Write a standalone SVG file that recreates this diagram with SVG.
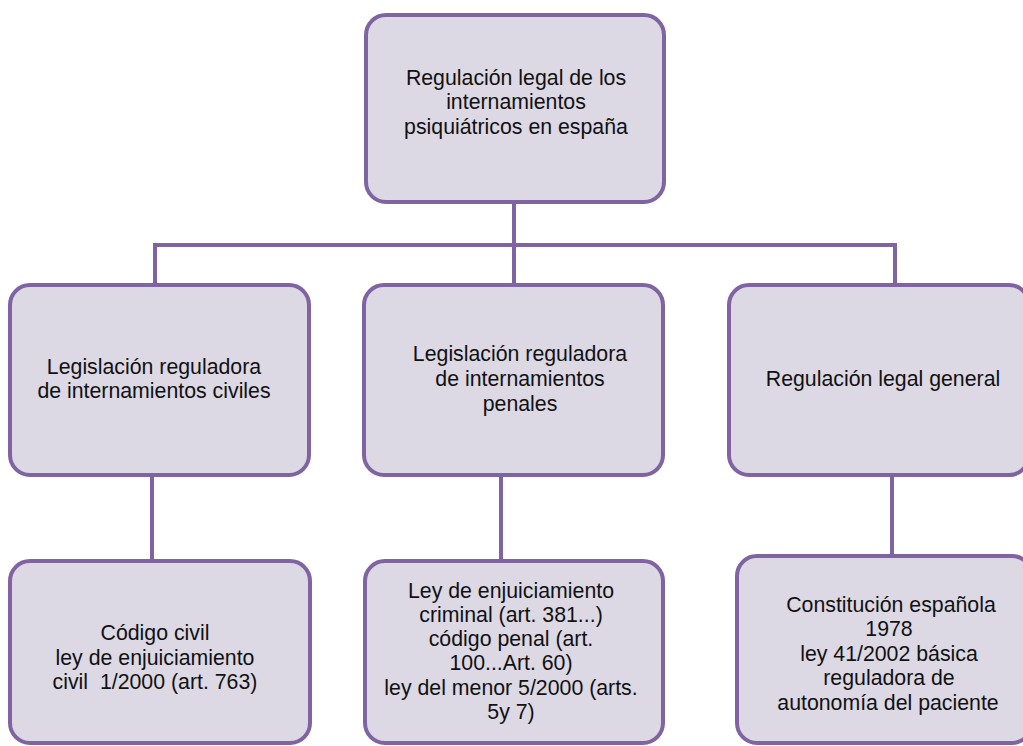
<svg xmlns="http://www.w3.org/2000/svg" width="1023" height="746" viewBox="0 0 1023 746">
<style>
.box{fill:#DCD8E4;stroke:#8064A2;stroke-width:4}
.ln{fill:none;stroke:#8064A2;stroke-width:4}
text{font-family:"Liberation Sans",Arial,sans-serif;font-size:21.3px;fill:#111;text-anchor:middle}
</style>
<rect width="1023" height="746" fill="#fff"/>
<g id="connectors">
<path class="ln" d="M514,202 V245 M155,285 V245 H895 V285 M514,245 V285"/>
<path class="ln" d="M152,475 V561 M501,475 V561 M892,475 V556"/>
</g>
<g id="n0">
<rect class="box" x="366" y="15" width="298" height="187" rx="20"/>
<text x="516" y="85">Regulación legal de los</text>
<text x="516" y="109">internamientos</text>
<text x="516" y="134">psiquiátricos en españa</text>
</g>
<g id="n1">
<rect class="box" x="10" y="285" width="299" height="190" rx="20"/>
<text x="154" y="374">Legislación reguladora</text>
<text x="154" y="398">de internamientos civiles</text>
</g>
<g id="n2">
<rect class="box" x="364" y="285" width="299" height="190" rx="20"/>
<text x="520" y="361">Legislación reguladora</text>
<text x="520" y="386">de internamientos</text>
<text x="520" y="411">penales</text>
</g>
<g id="n3">
<rect class="box" x="729" y="285" width="300" height="190" rx="20"/>
<text x="883" y="386">Regulación legal general</text>
</g>
<g id="n4">
<rect class="box" x="10" y="561" width="300" height="182" rx="20"/>
<text x="155" y="640">Código civil</text>
<text x="155" y="665">ley de enjuiciamiento</text>
<text x="155" y="689" xml:space="preserve">civil  1/2000 (art. 763)</text>
</g>
<g id="n5">
<rect class="box" x="365" y="561" width="298" height="182" rx="20"/>
<text x="511" y="598">Ley de enjuiciamiento</text>
<text x="511" y="622">criminal (art. 381...)</text>
<text x="511" y="646">código penal (art.</text>
<text x="511" y="670">100...Art. 60)</text>
<text x="511" y="695">ley del menor 5/2000 (arts.</text>
<text x="511" y="719">5y 7)</text>
</g>
<g id="n6">
<rect class="box" x="737" y="556" width="295" height="187" rx="20"/>
<text x="891" y="612">Constitución española</text>
<text x="889" y="636">1978</text>
<text x="889" y="661">ley 41/2002 básica</text>
<text x="889" y="685">reguladora de</text>
<text x="888" y="710">autonomía del paciente</text>
</g>
</svg>
